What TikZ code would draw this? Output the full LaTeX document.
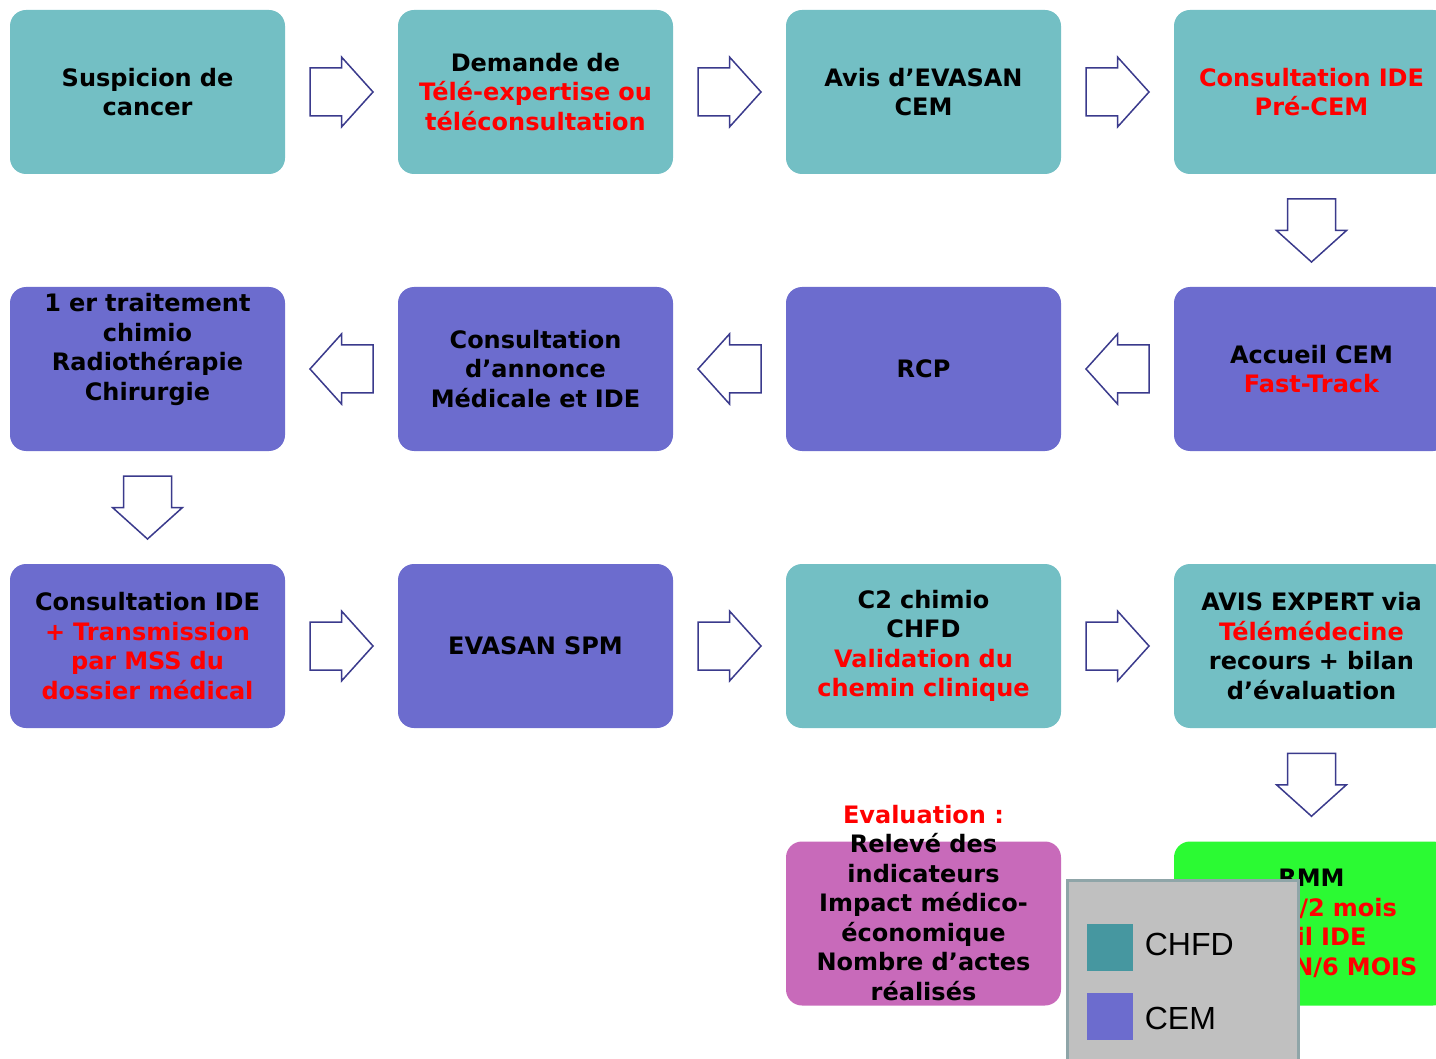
\documentclass[tikz,border=0pt]{standalone}
\usepackage{fontspec}
\setmainfont{DejaVu Sans}
\newfontfamily\legfont{Liberation Sans}
\usetikzlibrary{calc,positioning}
\definecolor{ChfdClr}{RGB}{115,191,196}
\definecolor{CemClr}{RGB}{108,108,206}
\definecolor{EvalClr}{RGB}{200,106,186}
\definecolor{RmmClr}{RGB}{43,250,51}
\definecolor{ArrowClr}{RGB}{58,58,140}
\definecolor{LegClr}{RGB}{192,192,192}
\definecolor{LegLineClr}{RGB}{143,165,168}
\definecolor{LegTealClr}{RGB}{70,151,160}

\newcommand\txtred[1]{\textcolor{red}{#1}}

\tikzset{
  box/.style={rounded corners=8pt,minimum width=137.5pt,minimum height=82pt,
    text width=136pt,align=center,inner sep=0pt,
    font=\bfseries\fontsize{12}{14.75}\selectfont},
  chfd/.style={box,fill=ChfdClr},
  cem/.style={box,fill=CemClr},
  blockarr/.pic={
    \draw[ArrowClr,line width=0.75pt,fill=white,line join=miter]
      (-31.5,-24) -- (0,-24) -- (0,-35) -- (31.5,0) -- (0,35) -- (0,24)
      -- (-31.5,24) -- cycle;
  },
  legtext/.style={inner sep=0pt,font=\legfont\fontsize{16}{19}\selectfont},
  swatch/.style={minimum width=23pt,minimum height=23.5pt,inner sep=0pt}
}

\begin{document}
\begin{tikzpicture}[x=0.5pt,y=-0.5pt]
\useasboundingbox (0,0) rectangle (1436,1059);
\clip (0,0) rectangle (1436,1059);

% first row
\node[chfd] (s1) at (147.5,92) {Suspicion de\\cancer};
\node[chfd] (s2) at (535.5,92) {Demande de\\\txtred{Télé-expertise ou}\\\txtred{téléconsultation}};
\node[chfd] (s3) at (923.5,92) {Avis d’EVASAN\\CEM};
\node[chfd] (s4) at (1311.5,92) {\txtred{Consultation IDE}\\\txtred{Pré-CEM}};

% second row
\node[cem] (s5) at (1311.5,369) {Accueil CEM\\\txtred{Fast-Track}};
\node[cem] (s6) at (923.5,369) {RCP};
\node[cem] (s7) at (535.5,369) {Consultation\\d’annonce\\Médicale et IDE};
\node[cem] (s8) at (147.5,369) {1 er traitement\\chimio\\Radiothérapie\\Chirurgie\\[7.25pt]~};

% third row
\node[cem] (s9) at (147.5,646) {Consultation IDE\\\txtred{+ Transmission}\\\txtred{par MSS du}\\\txtred{dossier médical}};
\node[cem] (s10) at (535.5,646) {EVASAN SPM};
\node[chfd] (s11) at (923.5,646) {C2 chimio\\CHFD\\\txtred{Validation du}\\\txtred{chemin clinique}};
\node[chfd] (s12) at (1311.5,646) {AVIS EXPERT via\\\txtred{Télémédecine}\\recours + bilan\\d’évaluation};

% last row
\node[box,fill=RmmClr] (s13) at (1311.5,923.5) {RMM\\\txtred{Visio /2 mois}\\\txtred{Mail IDE}\\\txtred{EVASAN/6 MOIS}};
\node[box,fill=EvalClr] (ev) at (923.5,923.5) {};
\node[align=center,inner sep=0pt,font=\bfseries\fontsize{12}{14.75}\selectfont] (evtxt) at (923.5,903)
  {\txtred{Evaluation :}\\Relevé des\\indicateurs\\Impact médico-\\économique\\Nombre d’actes\\réalisés};

% arrows
\pic at ($(s1.east)!.5!(s2.west)$) {blockarr};
\pic at ($(s2.east)!.5!(s3.west)$) {blockarr};
\pic at ($(s3.east)!.5!(s4.west)$) {blockarr};
\pic[rotate=-90] at ($(s4.south)!.5!(s5.north)$) {blockarr};
\pic[rotate=180] at ($(s5.west)!.5!(s6.east)$) {blockarr};
\pic[rotate=180] at ($(s6.west)!.5!(s7.east)$) {blockarr};
\pic[rotate=180] at ($(s7.west)!.5!(s8.east)$) {blockarr};
\pic[rotate=-90] at ($(s8.south)!.5!(s9.north)$) {blockarr};
\pic at ($(s9.east)!.5!(s10.west)$) {blockarr};
\pic at ($(s10.east)!.5!(s11.west)$) {blockarr};
\pic at ($(s11.east)!.5!(s12.west)$) {blockarr};
\pic[rotate=-90] at ($(s12.south)!.5!(s13.north)$) {blockarr};

% legend
\node[anchor=north west,fill=LegClr,draw=LegLineClr,line width=1.5pt,
  minimum width=115.5pt,minimum height=100pt,inner sep=0pt] (leg) at (1066,879) {};
\node[swatch,fill=LegTealClr] (kchfd) at (1110,947.5) {};
\node[swatch,fill=CemClr] (kcem) at (1110,1016.5) {};
\node[legtext,right=5.5pt of kchfd,yshift=1.5pt] (tchfd) {CHFD};
\node[legtext,right=5.5pt of kcem,yshift=-0.75pt] (tcem) {CEM};
\end{tikzpicture}
\end{document}
